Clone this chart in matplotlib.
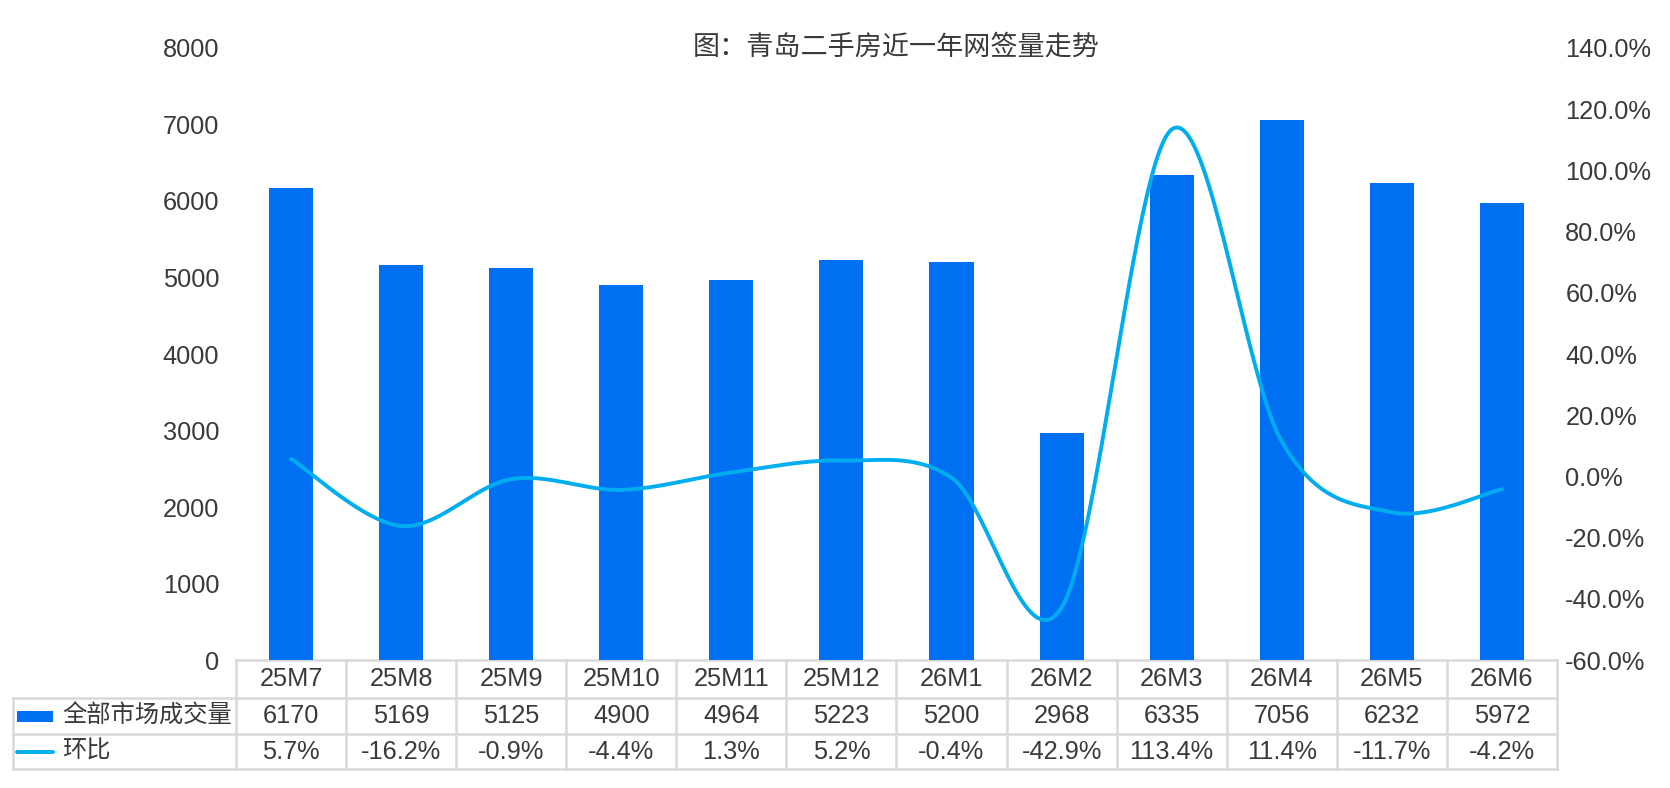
import numpy as np
import matplotlib
matplotlib.use("Agg")
import matplotlib.pyplot as plt
from matplotlib.transforms import blended_transform_factory
from matplotlib.patches import Rectangle
from matplotlib.lines import Line2D

plt.rcParams['font.family'] = ['Liberation Sans', 'Noto Sans CJK SC', 'DejaVu Sans']

# data
months = ['25M7', '25M8', '25M9', '25M10', '25M11', '25M12',
          '26M1', '26M2', '26M3', '26M4', '26M5', '26M6']
volume = [6170, 5169, 5125, 4900, 4964, 5223, 5200, 2968, 6335, 7056, 6232, 5972]
mom = [5.7, -16.2, -0.9, -4.4, 1.3, 5.2, -0.4, -42.9, 113.4, 11.4, -11.7, -4.2]

TITLE = '图：青岛二手房近一年网签量走势'
BAR_NAME = '全部市场成交量'
LINE_NAME = '环比'

BAR_COLOR = '#0070F2'
LINE_COLOR = '#00AEF0'
TEXT_COLOR = '#3A3A3A'
GRID_COLOR = '#D9D9D9'
FS = 18.3      # numbers
FS_CJK = 17.5  # row labels


def smooth(xs, ys, n=40):
    """Excel-like smoothed line (bezier through the points)."""
    xs = np.asarray(xs, float)
    ys = np.asarray(ys, float)
    px = np.concatenate([[xs[0]], xs, [xs[-1]]])
    py = np.concatenate([[ys[0]], ys, [ys[-1]]])
    outx, outy = [], []
    t = np.linspace(0, 1, n)
    for i in range(1, len(px) - 2):
        p0x, p1x, p2x, p3x = px[i - 1:i + 3]
        p0y, p1y, p2y, p3y = py[i - 1:i + 3]
        c1x, c1y = p1x + (p2x - p0x) / 6, p1y + (p2y - p0y) / 6
        c2x, c2y = p2x - (p3x - p1x) / 6, p2y - (p3y - p1y) / 6
        bx = (1 - t) ** 3 * p1x + 3 * (1 - t) ** 2 * t * c1x + 3 * (1 - t) * t ** 2 * c2x + t ** 3 * p2x
        by = (1 - t) ** 3 * p1y + 3 * (1 - t) ** 2 * t * c1y + 3 * (1 - t) * t ** 2 * c2y + t ** 3 * p2y
        outx.extend(bx)
        outy.extend(by)
    return np.array(outx), np.array(outy)


fig = plt.figure(figsize=(16.7, 7.88), dpi=100, facecolor='white')
ax = fig.add_axes([0.1413, 0.1624, 0.791, 0.7767])
x = np.arange(len(months))

ax.bar(x, volume, width=0.4, color=BAR_COLOR, zorder=2)
ax.set_xlim(-0.5, len(months) - 0.5)
ax.set_ylim(0, 8000)
ax.set_yticks(range(0, 8001, 1000))
ax.set_xticks([])
for s in ax.spines.values():
    s.set_visible(False)
ax.tick_params(axis='y', length=0, labelsize=FS, labelcolor=TEXT_COLOR, pad=12)

ax2 = ax.twinx()
ax2.set_ylim(-60, 140)
ax2.set_yticks(range(-60, 141, 20))
ax2.set_yticklabels([f'{v:.1f}%' for v in range(-60, 141, 20)])
for s in ax2.spines.values():
    s.set_visible(False)
ax2.tick_params(axis='y', length=0, labelsize=FS, labelcolor=TEXT_COLOR, pad=6)
sx, sy = smooth(x, mom)
ax2.plot(sx, sy, color=LINE_COLOR, lw=2.8, solid_capstyle='round', zorder=3)

ax.text(0.5, 1.0, TITLE, transform=ax.transAxes, ha='center', va='center',
        fontsize=19.5, fontweight='medium', color=TEXT_COLOR)

# data table below the plot
tr = blended_transform_factory(ax.transData, ax.transAxes)
rows_y = [0, -0.062, -0.121, -0.178]
left = -2.53
right = len(months) - 0.5
line_kw = dict(color=GRID_COLOR, lw=1.8, transform=tr, clip_on=False, zorder=1)

ax.plot([-0.5, right], [rows_y[0]] * 2, **line_kw)
for yy in rows_y[1:]:
    ax.plot([left, right], [yy] * 2, **line_kw)
for k in range(len(months) + 1):
    ax.plot([k - 0.5] * 2, [rows_y[0], rows_y[-1]], **line_kw)
ax.plot([left] * 2, [rows_y[1], rows_y[-1]], **line_kw)

txt_kw = dict(transform=tr, ha='center', va='center', fontsize=FS,
              color=TEXT_COLOR, clip_on=False)
for i, m in enumerate(months):
    ax.text(i, (rows_y[0] + rows_y[1]) / 2, m, **txt_kw)
    ax.text(i, (rows_y[1] + rows_y[2]) / 2, f'{volume[i]}', **txt_kw)
    ax.text(i, (rows_y[2] + rows_y[3]) / 2, f'{mom[i]:.1f}%', **txt_kw)

# row labels with legend keys
y2 = (rows_y[1] + rows_y[2]) / 2
y3 = (rows_y[2] + rows_y[3]) / 2
ax.add_patch(Rectangle((left + 0.04, y2 - 0.009), 0.33, 0.018, transform=tr,
                       facecolor=BAR_COLOR, edgecolor='none', clip_on=False))
ax.add_line(Line2D([left + 0.04, left + 0.37], [y3, y3], transform=tr,
                   color=LINE_COLOR, lw=2.8, solid_capstyle='round', clip_on=False))
ax.text(left + 0.45, y2, BAR_NAME, transform=tr, ha='left', va='center',
        fontsize=FS_CJK, color=TEXT_COLOR, clip_on=False)
ax.text(left + 0.45, y3, LINE_NAME, transform=tr, ha='left', va='center',
        fontsize=FS_CJK, color=TEXT_COLOR, clip_on=False)

fig.savefig('out.png', dpi=100, facecolor='white')
